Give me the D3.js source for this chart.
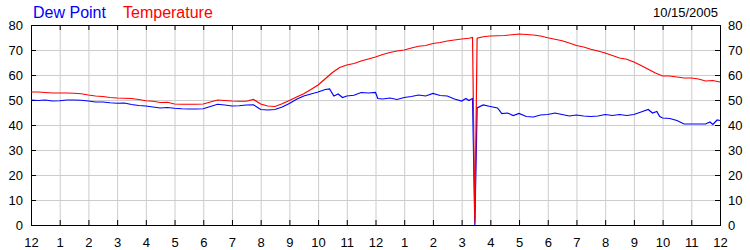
<!DOCTYPE html>
<html>
<head>
<meta charset="utf-8">
<script src="https://cdn.jsdelivr.net/npm/d3@7"></script>
<style>
	body { margin: 0; background: #fff; }
	svg text { font-family: 'Liberation Sans', Arial, sans-serif; fill: #000; }
	.axis path { display: none; }
	.axis line { stroke: #000; }
	.grid line { stroke: #cccccc; }
	.grid path { display: none; }
</style>
</head>
<body>
<script>

// hours since midnight and readings (deg F)
const tempHours = [0, 0.25, 0.5, 0.75, 1, 1.25, 1.5, 1.75, 2, 2.25, 2.5, 2.75, 3, 3.25, 3.5, 3.75,
	4, 4.25, 4.5, 4.75, 5, 5.25, 5.5, 5.75, 6, 6.25, 6.5, 6.75, 7, 7.25, 7.5, 7.75,
	8, 8.25, 8.5, 8.75, 9, 9.25, 9.5, 9.75, 10, 10.25, 10.5, 10.75, 11, 11.25, 11.5, 11.75,
	12, 12.25, 12.5, 12.75, 13, 13.25, 13.5, 13.75, 14, 14.25, 14.5, 14.75, 15, 15.25, 15.38, 15.46, 15.54, 15.75,
	16, 16.25, 16.5, 16.75, 17, 17.25, 17.5, 17.75, 18, 18.25, 18.5, 18.75, 19, 19.25, 19.5, 19.75,
	20, 20.25, 20.5, 20.75, 21, 21.25, 21.5, 21.75, 22, 22.25, 22.5, 22.75, 23, 23.25, 23.5, 23.75, 24]
const tempValues = [53.2, 53.2, 53.0, 52.8, 52.8, 52.8, 52.7, 52.5, 52.0, 51.6, 51.4, 51.0, 50.8, 50.7, 50.6, 50.2,
	49.7, 49.5, 49.0, 49.1, 48.4, 48.3, 48.3, 48.3, 48.4, 49.2, 50.0, 49.8, 49.6, 49.5, 49.5, 50.2,
	48.4, 47.6, 47.4, 48.5, 49.8, 51.2, 52.5, 54.2, 56.0, 58.5, 61.0, 63.0, 64.0, 64.6, 65.6, 66.4,
	67.2, 68.2, 69.0, 69.6, 70.0, 70.8, 71.5, 71.8, 72.6, 73.0, 73.6, 74.0, 74.4, 74.7, 75.0, 1.0, 74.7, 75.3,
	75.6, 75.7, 75.8, 76.1, 76.4, 76.2, 76.0, 75.6, 74.9, 74.3, 73.7, 72.8, 71.8, 71.2, 70.3, 69.6,
	68.8, 67.8, 66.8, 66.3, 65.2, 63.8, 62.3, 60.8, 59.6, 59.6, 59.2, 58.8, 58.8, 58.4, 57.6, 57.8, 57.2]

const dewHours = [0, 0.25, 0.5, 0.75, 1, 1.25, 1.5, 1.75, 2, 2.25, 2.5, 2.75, 3, 3.25, 3.5, 3.75,
	4, 4.25, 4.5, 4.75, 5, 5.25, 5.5, 5.75, 6, 6.25, 6.5, 6.75, 7, 7.25, 7.5, 7.75,
	8, 8.25, 8.5, 8.75, 9, 9.25, 9.5, 9.75, 10, 10.25, 10.4, 10.55, 10.7, 10.85, 11, 11.25, 11.5, 11.75,
	12, 12.08, 12.25, 12.5, 12.75, 13, 13.25, 13.5, 13.75, 14, 14.25, 14.5, 14.75, 15, 15.15, 15.25, 15.38, 15.46, 15.54, 15.75,
	16, 16.25, 16.4, 16.6, 16.8, 17, 17.25, 17.5, 17.75, 18, 18.25, 18.5, 18.75, 19, 19.25, 19.5, 19.75,
	20, 20.25, 20.5, 20.75, 21, 21.25, 21.5, 21.65, 21.8, 21.9, 22, 22.25, 22.5, 22.75, 23, 23.25, 23.5, 23.65, 23.75, 23.9, 24]
const dewValues = [50.0, 49.8, 50.0, 49.6, 49.7, 50.0, 50.0, 49.9, 49.6, 49.2, 49.2, 48.9, 48.7, 48.8, 48.2, 47.8,
	47.6, 47.2, 46.8, 47.0, 46.7, 46.5, 46.4, 46.4, 46.5, 47.4, 48.3, 48.0, 47.6, 47.7, 48.0, 48.1,
	46.2, 46.0, 46.2, 47.2, 48.6, 50.3, 51.6, 52.4, 53.2, 54.2, 54.4, 51.6, 52.4, 51.0, 51.6, 51.9, 53.0, 52.8,
	53.0, 50.6, 50.4, 50.8, 50.2, 51.0, 51.4, 52.0, 51.6, 52.6, 51.8, 51.6, 50.4, 49.6, 50.6, 49.8, 50.6, 0, 46.8, 48.0,
	47.4, 46.8, 44.6, 44.8, 43.8, 44.6, 43.4, 43.2, 44.0, 44.2, 44.8, 44.2, 43.6, 44.0, 43.6, 43.4, 43.6,
	44.2, 43.8, 44.2, 43.8, 44.2, 45.2, 46.2, 44.8, 45.4, 43.4, 42.8, 42.6, 41.8, 40.4, 40.4, 40.4, 40.4, 41.2, 40.2, 42.0, 41.8]

const hourLabels = ['12', '1', '2', '3', '4', '5', '6', '7', '8', '9', '10', '11',
	'12', '1', '2', '3', '4', '5', '6', '7', '8', '9', '10', '11', '12']
const yTicks = [0, 10, 20, 30, 40, 50, 60, 70, 80]
const seriesNames = ['Dew Point', 'Temperature']
const seriesColors = ['#0000ff', '#ff0000']
const dateLabel = '10/15/2005'

const margin = {
	top: 25,
	right: 30,
	bottom: 25,
	left: 31
}

const width = 750 - margin.left - margin.right
const height = 250 - margin.top - margin.bottom

const x = d3.scaleLinear().domain([0, 24]).range([0, width])
const y = d3.scaleLinear().domain([0, 80]).range([height, 0])

const svg = d3.select('body').append('svg')
	.attr('width', 750)
	.attr('height', 250)

const g = svg.append('g')
	.attr('transform', 'translate(' + margin.left + ',' + margin.top + ')')

// grid
g.append('g')
	.attr('class', 'grid')
	.attr('transform', 'translate(0,' + height + ')')
	.call(d3.axisBottom(x).tickValues(d3.range(1, 24)).tickSize(-height).tickFormat(''))
g.append('g')
	.attr('class', 'grid')
	.call(d3.axisLeft(y).tickValues(yTicks.slice(1, -1)).tickSize(-width).tickFormat(''))

// frame
g.append('rect')
	.attr('x', 0.5)
	.attr('y', 0.5)
	.attr('width', width)
	.attr('height', height)
	.attr('fill', 'none')
	.attr('stroke', '#000')

// inward ticks + labels
const hourTicks = d3.range(0, 25)

g.append('g')
	.attr('class', 'axis')
	.attr('transform', 'translate(0,' + height + ')')
	.call(d3.axisBottom(x).tickValues(hourTicks).tickSizeInner(-5).tickPadding(13)
		.tickFormat(function(d, i) { return hourLabels[i] }))
	.selectAll('text')
	.style('font-size', '13px')

g.append('g')
	.attr('class', 'axis')
	.call(d3.axisTop(x).tickValues(hourTicks).tickSizeInner(-5).tickFormat(''))

g.append('g')
	.attr('class', 'axis')
	.call(d3.axisLeft(y).tickValues(yTicks).tickSizeInner(-5).tickPadding(8))
	.selectAll('text')
	.style('font-size', '13px')

g.append('g')
	.attr('class', 'axis')
	.attr('transform', 'translate(' + width + ',0)')
	.call(d3.axisRight(y).tickValues(yTicks).tickSizeInner(-5).tickPadding(8))
	.selectAll('text')
	.style('font-size', '13px')

// lines
const line = d3.line()
	.x(function(d) { return x(d[0]) })
	.y(function(d) { return y(d[1]) })

const dewData = dewHours.map(function(h, i) { return [h, dewValues[i]] })
const tempData = tempHours.map(function(h, i) { return [h, tempValues[i]] })

g.append('path')
	.datum(dewData)
	.attr('fill', 'none')
	.attr('stroke', seriesColors[0])
	.attr('stroke-width', 1.2)
	.attr('d', line)

g.append('path')
	.datum(tempData)
	.attr('fill', 'none')
	.attr('stroke', seriesColors[1])
	.attr('stroke-width', 1.2)
	.attr('d', line)

// legend + date
svg.append('text')
	.attr('x', 33)
	.attr('y', 18)
	.style('font-size', '16px')
	.style('fill', seriesColors[0])
	.text(seriesNames[0])

svg.append('text')
	.attr('x', 123)
	.attr('y', 18)
	.style('font-size', '16px')
	.style('fill', seriesColors[1])
	.text(seriesNames[1])

svg.append('text')
	.attr('x', 718)
	.attr('y', 17)
	.attr('text-anchor', 'end')
	.style('font-size', '13px')
	.text(dateLabel)

</script>
</body>
</html>
